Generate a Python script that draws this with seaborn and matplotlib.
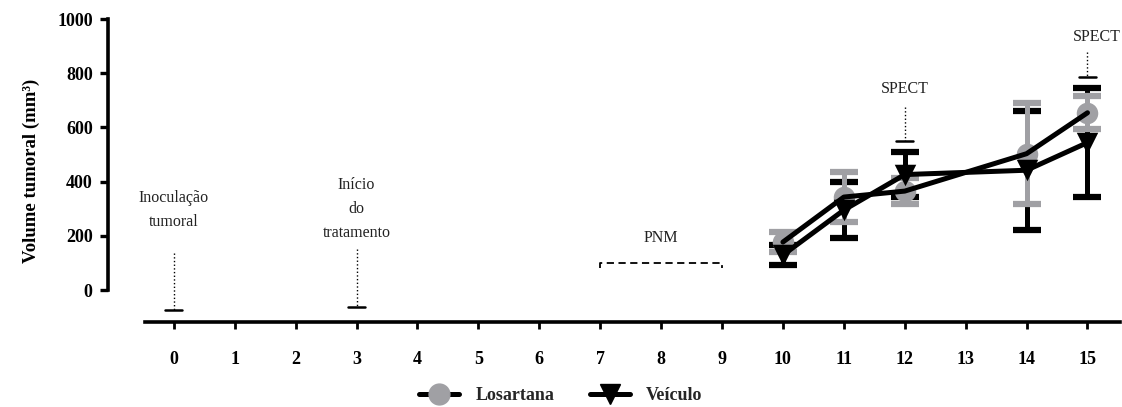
# Tumour volume over time, Losartana vs Veículo
import pandas as pd
import seaborn as sns
import matplotlib.pyplot as plt
from matplotlib.lines import Line2D

# data
days = [10, 11, 12, 14, 15]
losartana_mean = [177, 343, 365, 503, 654]
losartana_sd = [37, 92, 48, 186, 61]
veiculo_mean = [129, 295, 426, 442, 544]
veiculo_sd = [38, 103, 83, 220, 201]
x_ticks = list(range(16))
y_ticks = [0, 200, 400, 600, 800, 1000]

df = pd.DataFrame({
    'dia': days * 2,
    'volume': losartana_mean + veiculo_mean,
    'grupo': ['Losartana'] * 5 + ['Veículo'] * 5,
})

sns.set_style('ticks')
plt.rcParams['font.family'] = ['Liberation Serif', 'DejaVu Serif']

gray = '#a0a0a4'

fig = plt.figure(figsize=(11.22, 4.07), dpi=100)
ax = fig.add_axes([108 / 1122, 1 - 322 / 407, (1121 - 108) / 1122, (322 - 19) / 407])
ax.set_xlim(-1.08, 15.55)
ax.set_ylim(-118, 1000)

# error bars (Veículo under Losartana)
ax.errorbar(days, veiculo_mean, yerr=veiculo_sd, fmt='none', ecolor='black',
            elinewidth=3.6, capsize=10, capthick=4.5, zorder=2)
ax.errorbar(days, losartana_mean, yerr=losartana_sd, fmt='none', ecolor=gray,
            elinewidth=3.6, capsize=10, capthick=4.5, zorder=3)

# markers
sns.scatterplot(data=df[df.grupo == 'Losartana'], x='dia', y='volume', marker='o',
                s=240, color=gray, linewidth=0, zorder=4, ax=ax, legend=False)
sns.scatterplot(data=df[df.grupo == 'Veículo'], x='dia', y='volume', marker='v',
                s=240, color='black', linewidth=0, zorder=4, ax=ax, legend=False)

# lines on top
sns.lineplot(data=df, x='dia', y='volume', units='grupo', estimator=None,
             color='black', lw=3.6, zorder=5, ax=ax, legend=False)

# annotations
def marker_line(x, y_top, y_bot, half=0.14):
    ax.plot([x, x], [y_top, y_bot], ls=':', color='black', lw=1.0, zorder=1)
    ax.plot([x - half, x + half], [y_bot, y_bot], color='black', lw=1.8, zorder=1)

marker_line(0, 136, -74)
marker_line(3, 151, -63)
marker_line(12, 675, 549)
marker_line(15, 877, 785)

txt = dict(fontsize=11.5, color='#222222', ha='center', va='center')
ax.text(0, 295, 'Inoculação\ntumoral', linespacing=1.7, **txt)
ax.text(3, 299, 'Início\ndo\ntratamento', linespacing=1.7, **txt)
ax.text(8, 192, 'PNM', **txt)
ax.text(12, 741, 'SPECT', **txt)
ax.text(15.15, 933, 'SPECT', **txt)
ax.plot([7, 7, 9, 9], [80, 100, 100, 80], ls='--', dashes=(4, 2.5), color='black', lw=1.3)

# axes styling
sns.despine(ax=ax)
ax.spines['left'].set_bounds(0, 1000)
ax.spines['bottom'].set_bounds(-0.48, 15.53)
for s in ['left', 'bottom']:
    ax.spines[s].set_linewidth(2.6)
    ax.spines[s].set_color('black')
ax.set_yticks(y_ticks)
ax.set_xticks(x_ticks)
ax.set_yticklabels([str(v) for v in y_ticks], fontweight='bold', fontsize=13)
ax.set_xticklabels([str(v) for v in x_ticks], fontweight='bold', fontsize=13)
ax.tick_params(axis='y', length=6, width=2.4, pad=5, colors='black')
ax.tick_params(axis='x', length=5, width=2.0, pad=16, colors='black')
ax.set_xlabel('')
ax.set_ylabel('Volume tumoral (mm³)', fontweight='bold', fontsize=13.5, labelpad=12,
              color='black')

# legend
handles = [
    Line2D([], [], color='black', lw=3.6, marker='o', markersize=15,
           markerfacecolor=gray, markeredgecolor=gray),
    Line2D([], [], color='black', lw=3.6, marker='v', markersize=15,
           markerfacecolor='black', markeredgecolor='black'),
]
fig.legend(handles, ['Losartana', 'Veículo'], loc='center', ncol=2, frameon=False,
           bbox_to_anchor=(0.5, 1 - 396 / 407), prop={'weight': 'bold', 'size': 13},
           handlelength=2.2, columnspacing=2.0, handletextpad=0.9)

fig.savefig('out.png', dpi=100)
